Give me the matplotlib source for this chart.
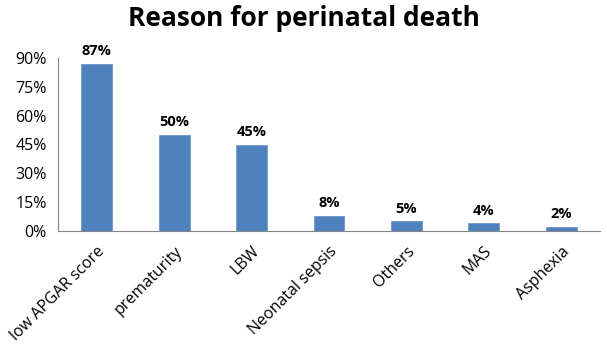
import matplotlib.pyplot as plt
from matplotlib.ticker import PercentFormatter

reasons = ['low APGAR score', 'prematurity', 'LBW', 'Neonatal sepsis', 'Others', 'MAS', 'Asphexia']
percent = [87, 50, 45, 8, 5, 4, 2]
yticks = [0, 15, 30, 45, 60, 75, 90]

plt.rcParams['font.family'] = ['Open Sans', 'DejaVu Sans']

fig = plt.figure(figsize=(6.07, 3.46), dpi=100)
ax = fig.add_axes([58 / 607, 1 - 231 / 346, 542 / 607, 173 / 346])

x = range(len(reasons))
ax.bar(x, percent, width=0.4, color='#4F81BD', edgecolor='#6E98CF', linewidth=0.6)

for i, v in enumerate(percent):
    ax.text(i, v + 3, f'{v}%', ha='center', va='bottom', fontsize=10.5, fontweight='bold')

ax.set_xlim(-0.5, len(reasons) - 0.5)
ax.set_ylim(0, 90)
ax.set_yticks(yticks)
ax.yaxis.set_major_formatter(PercentFormatter(decimals=0))
ax.set_xticks(list(x))
ax.set_xticklabels(reasons, rotation=45, ha='right', rotation_mode='anchor', fontsize=11.5)
ax.tick_params(axis='y', length=0, labelsize=11.5, pad=8)
ax.tick_params(axis='x', length=0, pad=9)

for side in ['top', 'right']:
    ax.spines[side].set_visible(False)
for side in ['left', 'bottom']:
    ax.spines[side].set_color('#868686')
    ax.spines[side].set_linewidth(0.8)

fig.text(0.5, 0.985, 'Reason for perinatal death', ha='center', va='top',
         fontsize=19, fontweight='bold')

fig.savefig('out.png', dpi=100)
